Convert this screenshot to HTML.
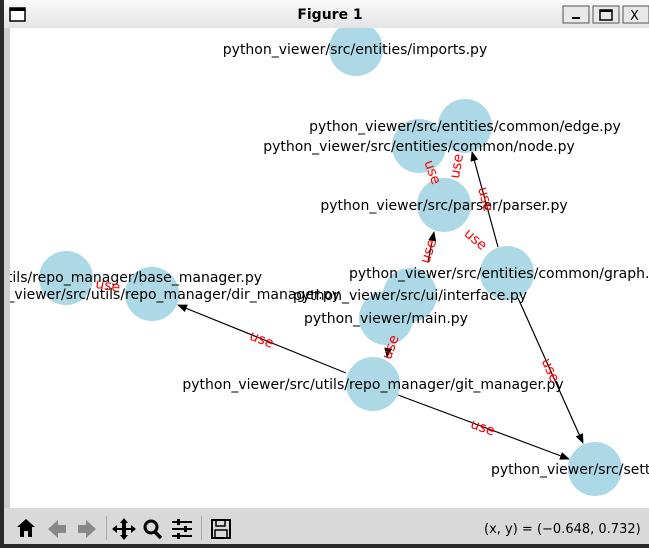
<!DOCTYPE html>
<html><head><style>
body{margin:0;width:649px;height:544px;overflow:hidden;background:#2b2b2b;font-family:"DejaVu Sans","Liberation Sans",sans-serif}
</style></head><body>
<svg width="649" height="544" xmlns="http://www.w3.org/2000/svg" font-family="DejaVu Sans, Liberation Sans, sans-serif">
<defs>
<linearGradient id="tb" x1="0" y1="0" x2="0" y2="1"><stop offset="0" stop-color="#fafafa"/><stop offset="1" stop-color="#e4e4e4"/></linearGradient>
<clipPath id="pc"><rect x="10" y="28" width="639" height="480"/></clipPath>
<marker id="a" markerWidth="10" markerHeight="8" refX="9" refY="4" orient="auto" markerUnits="userSpaceOnUse"><path d="M0,0 L10,4 L0,8 z" fill="#000"/></marker>
</defs>
<rect x="0" y="0" width="649" height="544" fill="#2b2b2b"/>
<rect x="4" y="0" width="645" height="28" fill="url(#tb)"/>
<rect x="10" y="8" width="15" height="13" fill="#fff" stroke="#000" stroke-width="1.5"/><rect x="10" y="8" width="15" height="3" fill="#000"/>
<text x="330" y="19" text-anchor="middle" font-size="14" font-weight="bold">Figure 1</text>
<g fill="#e8e8e8" stroke="#555"><rect x="563" y="6" width="26" height="17"/><rect x="593" y="6" width="26" height="17"/><rect x="623" y="6" width="26" height="17"/></g>
<rect x="572" y="17" width="8" height="2" fill="#000"/>
<rect x="600" y="10" width="12" height="10" fill="none" stroke="#000" stroke-width="1.5"/><rect x="600" y="10" width="12" height="2" fill="#000"/>
<text x="630" y="20" font-size="13">X</text>
<rect x="4" y="28" width="6" height="480" fill="#cfcfcf"/>
<rect x="10" y="28" width="639" height="480" fill="#fff"/>
<g clip-path="url(#pc)">
<g stroke="#000" stroke-width="1.2" fill="none">
<line x1="346" y1="373" x2="178" y2="305" marker-end="url(#a)"/>
<line x1="398" y1="395" x2="569" y2="459" marker-end="url(#a)"/>
<line x1="498" y1="247" x2="472" y2="152" marker-end="url(#a)"/>
<line x1="518" y1="298" x2="583" y2="443" marker-end="url(#a)"/>
<line x1="388" y1="350" x2="387" y2="357" marker-end="url(#a)"/>
<line x1="428" y1="262" x2="434" y2="232" marker-end="url(#a)"/>
</g>
<g fill="#add8e6">
<circle cx="356" cy="49" r="27"/><circle cx="419" cy="146" r="27"/><circle cx="465" cy="126" r="27"/>
<circle cx="444" cy="205" r="27"/><circle cx="507" cy="273" r="27"/><circle cx="410" cy="295" r="27"/>
<circle cx="386" cy="318" r="27"/><circle cx="373" cy="384" r="27"/><circle cx="66" cy="278" r="27"/>
<circle cx="152" cy="294" r="27"/><circle cx="595" cy="469" r="27"/>
</g>
<g font-size="14" text-anchor="middle" fill="#000">
<text x="355" y="54">python_viewer/src/entities/imports.py</text>
<text x="465" y="131">python_viewer/src/entities/common/edge.py</text>
<text x="419" y="151">python_viewer/src/entities/common/node.py</text>
<text x="444" y="210">python_viewer/src/parser/parser.py</text>
<text x="349" y="278" text-anchor="start">python_viewer/src/entities/common/graph.py</text>
<text x="410" y="300">python_viewer/src/ui/interface.py</text>
<text x="386" y="323">python_viewer/main.py</text>
<text x="373" y="389">python_viewer/src/utils/repo_manager/git_manager.py</text>
<text x="262" y="282" text-anchor="end">python_viewer/src/utils/repo_manager/base_manager.py</text>
<text x="340" y="299" text-anchor="end">python_viewer/src/utils/repo_manager/dir_manager.py</text>
<text x="491" y="474" text-anchor="start">python_viewer/src/settings.py</text>
</g>
<g font-size="14" fill="#f00" text-anchor="middle">
<text x="262" y="344" transform="rotate(22 262 339)">use</text>
<text x="483" y="432" transform="rotate(20 483 427)">use</text>
<text x="551" y="375" transform="rotate(66 551 370)">use</text>
<text x="486" y="204" transform="rotate(75 486 199)">use</text>
<text x="428" y="256" transform="rotate(-72 428 251)">use</text>
<text x="476" y="244" transform="rotate(40 476 239)">use</text>
<text x="456" y="171" transform="rotate(-80 456 166)">use</text>
<text x="433" y="177" transform="rotate(70 433 172)">use</text>
<text x="108" y="290" transform="rotate(10 108 285)">use</text>
<text x="390" y="352" transform="rotate(-70 390 347)">use</text>
</g>
</g>
<rect x="4" y="508" width="645" height="36" fill="#d9d9d9"/>
<g fill="#000">
<path d="M17,527 L26,519 L35,527 L32,527 L32,537 L28,537 L28,531 L24,531 L24,537 L20,537 L20,527 z"/>
<path d="M48,529 L58,520 L58,525 L66,525 L66,533 L58,533 L58,538 z" fill="#888"/>
<path d="M96,529 L86,520 L86,525 L78,525 L78,533 L86,533 L86,538 z" fill="#888"/>
<rect x="106" y="516" width="1" height="24" fill="#aaa"/>
<path d="M124,518 L128,523 L126,523 L126,528 L131,528 L131,525 L136,529 L131,533 L131,530 L126,530 L126,535 L128,535 L124,540 L120,535 L122,535 L122,530 L117,530 L117,533 L112,529 L117,525 L117,528 L122,528 L122,523 L120,523 z"/>
<circle cx="151" cy="527" r="6" fill="none" stroke="#000" stroke-width="3"/><line x1="155" y1="532" x2="161" y2="538" stroke="#000" stroke-width="3.5"/>
<rect x="172" y="521" width="20" height="2"/><rect x="172" y="528" width="20" height="2"/><rect x="172" y="535" width="20" height="2"/>
<rect x="177" y="519" width="3" height="6"/><rect x="184" y="526" width="3" height="6"/><rect x="177" y="533" width="3" height="6"/>
<rect x="201" y="516" width="1" height="24" fill="#aaa"/>
<rect x="212" y="520" width="18" height="18" fill="none" stroke="#000" stroke-width="2"/><rect x="216" y="520" width="9" height="6" fill="none" stroke="#000" stroke-width="1.5"/><rect x="215" y="530" width="12" height="8" fill="none" stroke="#000" stroke-width="1.5"/>
</g>
<text x="484" y="533" font-size="13" fill="#000">(x, y) = (−0.648, 0.732)</text>
</svg>
</body></html>
